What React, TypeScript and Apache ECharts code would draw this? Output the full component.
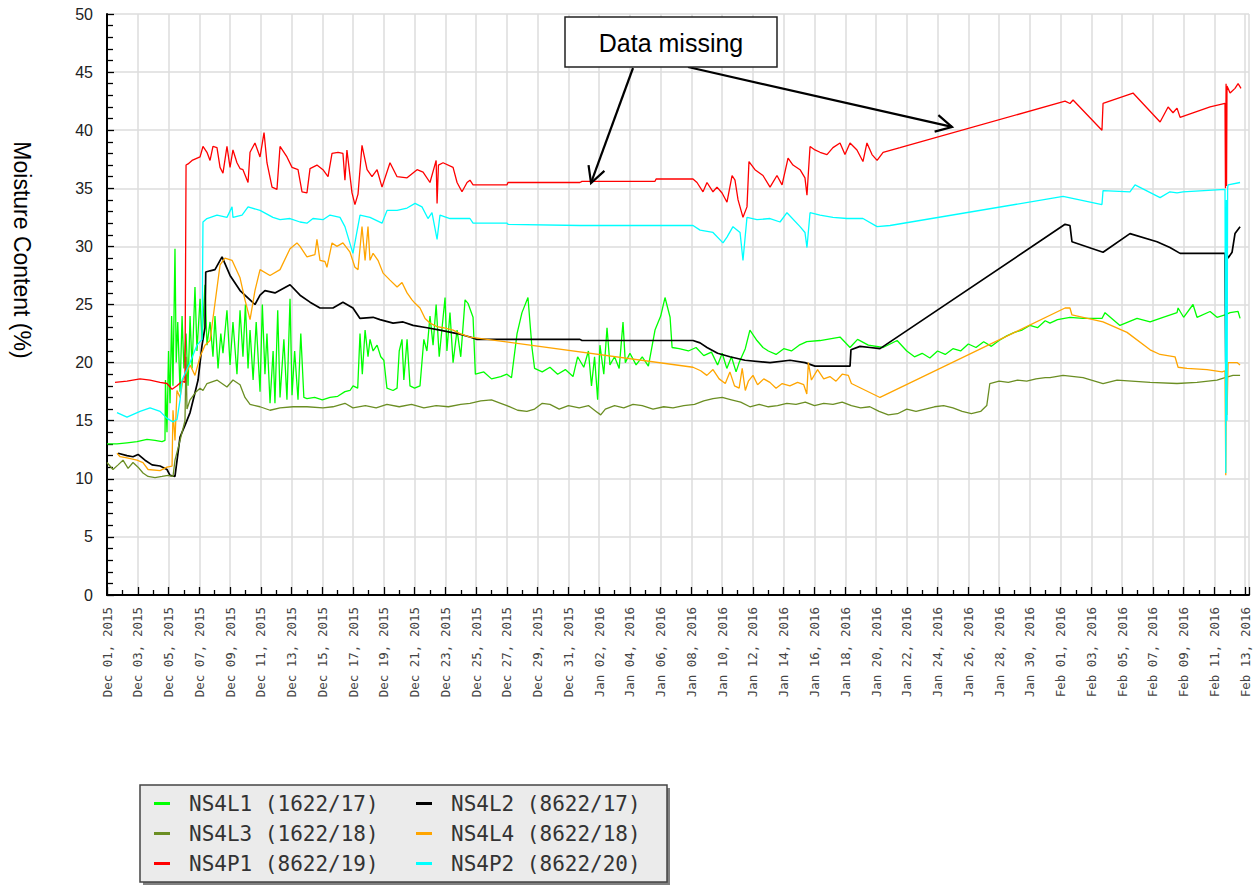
import React, { useEffect, useRef } from 'react';
import * as echarts from 'echarts';

// x values are days since Dec 01, 2015 00:00
const X_TICK_LABELS = [
  'Dec 01, 2015', 'Dec 03, 2015', 'Dec 05, 2015', 'Dec 07, 2015', 'Dec 09, 2015', 'Dec 11, 2015',
  'Dec 13, 2015', 'Dec 15, 2015', 'Dec 17, 2015', 'Dec 19, 2015', 'Dec 21, 2015', 'Dec 23, 2015',
  'Dec 25, 2015', 'Dec 27, 2015', 'Dec 29, 2015', 'Dec 31, 2015', 'Jan 02, 2016', 'Jan 04, 2016',
  'Jan 06, 2016', 'Jan 08, 2016', 'Jan 10, 2016', 'Jan 12, 2016', 'Jan 14, 2016', 'Jan 16, 2016',
  'Jan 18, 2016', 'Jan 20, 2016', 'Jan 22, 2016', 'Jan 24, 2016', 'Jan 26, 2016', 'Jan 28, 2016',
  'Jan 30, 2016', 'Feb 01, 2016', 'Feb 03, 2016', 'Feb 05, 2016', 'Feb 07, 2016', 'Feb 09, 2016',
  'Feb 11, 2016', 'Feb 13, 2016',
];
const X_MAX_DAYS = 74.25;

const SERIES_NAMES = [
  'NS4L1 (1622/17)', 'NS4L2 (8622/17)', 'NS4L3 (1622/18)',
  'NS4L4 (8622/18)', 'NS4P1 (8622/19)', 'NS4P2 (8622/20)',
];
const SERIES_COLORS = ['#00ff00', '#000000', '#6b8e23', '#ffa500', '#ff0000', '#00ffff'];

const NS4L1 = [
  [0, 13.0], [0.65, 13.0], [1.3, 13.1], [1.95, 13.2], [2.6, 13.4], [3.12, 13.3], [3.58, 13.2], [3.77, 13.3],
  [3.8, 18.5], [3.9, 14.0], [4.0, 21.0], [4.1, 16.5], [4.2, 24.0], [4.29, 18.0], [4.42, 29.8], [4.5, 20.0],
  [4.6, 23.5], [4.75, 17.5], [4.88, 24.0], [5.0, 19.5], [5.14, 22.5], [5.27, 18.0], [5.4, 24.0], [5.53, 19.5],
  [5.72, 26.5], [5.85, 21.0], [6.05, 25.5], [6.18, 22.0], [6.37, 26.7], [6.5, 21.5], [6.7, 23.5], [6.89, 20.5],
  [7.02, 24.0], [7.22, 19.5], [7.4, 22.5], [7.54, 20.8], [7.8, 24.5], [8.0, 19.8], [8.19, 23.5], [8.45, 19.0],
  [8.65, 24.5], [8.84, 20.5], [9.0, 25.0], [9.17, 19.5], [9.3, 22.8], [9.5, 18.5], [9.7, 23.5], [9.95, 17.5],
  [10.1, 25.0], [10.27, 19.0], [10.4, 22.5], [10.6, 16.5], [10.8, 21.0], [10.92, 16.5], [11.1, 24.5], [11.25, 17.0],
  [11.5, 22.0], [11.7, 16.8], [11.9, 25.5], [12.03, 17.2], [12.2, 21.0], [12.42, 16.8], [12.6, 22.5], [12.8, 17.0],
  [13.0, 16.9], [13.5, 17.0], [14.0, 16.8], [14.5, 17.0], [15.0, 17.1], [15.47, 17.5], [15.8, 17.6], [16.0, 18.0],
  [16.3, 17.8], [16.45, 22.5], [16.6, 19.0], [16.78, 22.8], [16.97, 20.5], [17.1, 22.0], [17.3, 21.0], [17.56, 21.5],
  [17.8, 20.5], [18.0, 20.2], [18.2, 17.8], [18.6, 17.6], [18.86, 17.8], [19.0, 21.0], [19.18, 22.0], [19.3, 18.5],
  [19.51, 22.0], [19.7, 18.0], [20.0, 17.8], [20.35, 18.0], [20.6, 22.0], [20.8, 21.0], [21.0, 24.0], [21.2, 21.5],
  [21.4, 25.0], [21.6, 20.5], [21.98, 25.6], [22.1, 21.0], [22.3, 24.3], [22.5, 20.0], [22.76, 22.8], [23.0, 20.5],
  [23.28, 25.4], [23.47, 25.1], [23.8, 23.9], [23.95, 19.0], [24.5, 19.2], [25.0, 18.6], [25.6, 18.8], [26.0, 19.0],
  [26.3, 18.7], [26.66, 22.5], [26.98, 24.3], [27.37, 25.6], [27.63, 21.3], [27.8, 19.5], [28.3, 19.2], [28.8, 19.6],
  [29.3, 19.0], [29.8, 19.4], [30.3, 18.8], [30.6, 20.5], [31.0, 19.6], [31.3, 21.0], [31.5, 18.0], [31.7, 20.5],
  [31.9, 16.8], [32.05, 21.5], [32.3, 19.0], [32.51, 23.0], [32.7, 19.8], [33.0, 20.5], [33.3, 19.5], [33.55, 23.5],
  [33.7, 20.0], [34.0, 20.8], [34.4, 19.8], [34.8, 20.5], [35.2, 19.7], [35.63, 22.8], [36.0, 24.0], [36.28, 25.6],
  [36.61, 23.9], [36.74, 21.3], [37.2, 21.2], [37.8, 21.0], [38.3, 21.3], [38.8, 20.6], [39.3, 20.9], [39.7, 19.8],
  [40.0, 20.8], [40.3, 19.5], [40.6, 20.5], [40.9, 19.2], [41.1, 20.0], [41.5, 21.2], [41.8, 22.8], [42.26, 21.9],
  [42.65, 21.3], [43.0, 21.0], [43.5, 20.7], [44.0, 21.2], [44.5, 21.0], [45.0, 21.5], [45.5, 21.8], [46.36, 21.9],
  [47.66, 22.2], [48.31, 21.3], [48.8, 22.0], [49.5, 21.5], [50.46, 21.3], [51.37, 21.9], [52.0, 21.0], [52.5, 20.5],
  [53.0, 20.8], [53.5, 20.4], [54.0, 21.0], [54.5, 20.7], [55.0, 21.2], [55.5, 21.0], [56.0, 21.6], [56.5, 21.3],
  [57.0, 21.8], [57.5, 21.4], [58.0, 21.9], [58.5, 22.3], [59.0, 22.6], [59.5, 22.8], [60.0, 23.2], [60.5, 23.0],
  [61.0, 23.6], [61.31, 23.4], [61.8, 23.7], [62.61, 23.9], [63.46, 23.8], [64.69, 23.8], [64.89, 24.3], [65.86, 23.2],
  [66.97, 23.8], [67.82, 23.5], [68.66, 23.9], [69.57, 24.3], [69.64, 24.7], [70.0, 23.9], [70.61, 25.0], [70.87, 23.9],
  [71.72, 24.4], [72.17, 23.9], [72.69, 24.1], [73.02, 24.3], [73.54, 24.4], [73.67, 23.8],
];

const NS4L2 = [
  [0.72, 12.2], [1.3, 12.0], [1.69, 11.9], [2.02, 12.1], [2.47, 11.6], [2.93, 11.2], [3.45, 11.1], [3.9, 10.8],
  [4.1, 10.3], [4.42, 10.2], [4.75, 13.6], [5.07, 14.6], [5.4, 15.7], [5.72, 17.4], [5.92, 18.5], [6.18, 21.5],
  [6.37, 23.0], [6.42, 27.8], [6.7, 27.9], [7.02, 28.0], [7.48, 29.1], [8.0, 27.5], [8.65, 26.2], [9.3, 25.4],
  [9.62, 25.0], [9.95, 25.8], [10.27, 26.2], [10.92, 26.0], [11.9, 26.7], [12.55, 25.8], [13.2, 25.2], [13.85, 24.7],
  [14.69, 24.7], [15.34, 25.2], [15.99, 24.7], [16.45, 23.8], [17.3, 23.9], [17.75, 23.7], [18.6, 23.4], [19.25, 23.5],
  [19.9, 23.2], [20.81, 23.0], [21.65, 22.8], [22.76, 22.5], [23.6, 22.2], [24.06, 22.0], [30.75, 22.0], [30.88, 21.9],
  [38.1, 21.9], [38.56, 21.7], [39.01, 21.3], [39.7, 20.8], [40.5, 20.5], [41.48, 20.2], [43.11, 20.0], [44.41, 20.2],
  [45.38, 20.0], [46.03, 19.7], [48.31, 19.7], [48.37, 21.1], [48.96, 21.4], [49.61, 21.3], [50.26, 21.2], [62.29, 31.9],
  [62.61, 31.8], [62.74, 30.4], [64.76, 29.5], [66.51, 31.1], [68.27, 30.4], [69.11, 29.9], [69.77, 29.4], [72.69, 29.4],
  [72.74, 20.0], [72.78, 25.0], [72.82, 29.3], [72.89, 29.0], [73.15, 29.5], [73.34, 31.1], [73.67, 31.7],
];

const NS4L3 = [
  [0, 11.4], [0.39, 10.8], [0.72, 11.2], [1.04, 11.6], [1.37, 10.9], [1.69, 11.4], [2.02, 11.0], [2.34, 10.5],
  [2.67, 10.2], [3.12, 10.1], [3.58, 10.2], [3.97, 10.3], [4.29, 10.2], [4.42, 11.6], [4.75, 13.3], [5.07, 15.0],
  [5.14, 20.5], [5.2, 16.0], [5.4, 16.8], [5.8, 17.5], [6.05, 17.8], [6.24, 17.6], [6.5, 18.2], [7.15, 18.5],
  [7.8, 17.9], [8.19, 18.5], [8.65, 18.1], [8.97, 17.0], [9.3, 16.4], [9.95, 16.2], [10.6, 15.9], [11.25, 16.1],
  [12.09, 16.2], [13.0, 16.2], [14.04, 16.1], [14.69, 16.2], [15.47, 16.5], [15.99, 16.1], [16.8, 16.3], [17.5, 16.1],
  [18.2, 16.4], [19.0, 16.2], [19.8, 16.4], [20.6, 16.1], [21.4, 16.3], [22.2, 16.2], [23.0, 16.4], [23.6, 16.5],
  [24.3, 16.7], [25.0, 16.8], [25.6, 16.5], [26.0, 16.3], [26.7, 15.9], [27.3, 15.8], [27.8, 16.0], [28.3, 16.5],
  [28.8, 16.4], [29.4, 16.0], [30.0, 16.3], [30.7, 16.1], [31.3, 16.3], [31.8, 15.8], [32.1, 15.5], [32.4, 16.0],
  [33.0, 16.3], [33.6, 16.1], [34.2, 16.4], [34.8, 16.3], [35.5, 16.0], [36.2, 16.2], [36.8, 16.1], [37.5, 16.3],
  [38.2, 16.4], [38.8, 16.7], [39.4, 16.9], [40.0, 17.0], [40.6, 16.8], [41.2, 16.6], [41.8, 16.2], [42.4, 16.4],
  [43.0, 16.2], [43.6, 16.3], [44.2, 16.5], [44.8, 16.4], [45.4, 16.6], [46.0, 16.3], [46.6, 16.5], [47.2, 16.4],
  [47.8, 16.6], [48.4, 16.3], [49.0, 16.1], [49.6, 16.2], [50.2, 15.8], [50.8, 15.5], [51.4, 15.6], [52.0, 16.0],
  [52.6, 15.8], [53.2, 16.0], [53.8, 16.2], [54.4, 16.3], [55.0, 16.1], [55.6, 15.8], [56.2, 15.6], [56.8, 15.8],
  [57.2, 16.3], [57.4, 18.2], [58.0, 18.4], [58.6, 18.3], [59.2, 18.5], [59.8, 18.4], [60.4, 18.6], [61.0, 18.7],
  [61.31, 18.7], [62.16, 18.9], [63.46, 18.7], [64.76, 18.2], [65.67, 18.5], [67.82, 18.3], [69.57, 18.2], [70.87, 18.3],
  [72.17, 18.5], [72.69, 18.7], [73.21, 18.9], [73.67, 18.9],
];

const NS4L4 = [
  [0.65, 12.2], [0.85, 11.9], [1.3, 11.8], [1.95, 11.6], [2.34, 11.4], [2.67, 10.8], [3.45, 10.7], [3.9, 11.0],
  [4.23, 11.1], [4.29, 15.9], [4.42, 13.3], [4.55, 17.6], [4.75, 17.0], [4.94, 18.5], [5.4, 19.8], [5.72, 18.9],
  [6.05, 20.5], [6.37, 21.5], [6.7, 21.9], [7.35, 28.4], [7.67, 29.0], [8.13, 28.8], [8.65, 27.3], [8.97, 25.4],
  [9.3, 23.7], [9.62, 26.2], [9.95, 28.0], [10.6, 27.5], [11.25, 28.0], [11.9, 29.8], [12.35, 30.3], [12.55, 30.0],
  [13.0, 29.1], [13.52, 29.3], [13.65, 30.6], [13.85, 28.8], [14.17, 28.7], [14.3, 28.2], [14.63, 30.3], [14.95, 30.0],
  [15.34, 30.3], [15.8, 29.5], [16.12, 28.2], [16.32, 28.0], [16.58, 31.7], [16.78, 28.8], [16.97, 31.7], [17.1, 28.8],
  [17.3, 29.4], [17.62, 28.8], [17.95, 27.7], [18.4, 27.1], [18.86, 26.5], [19.18, 26.9], [19.51, 26.0], [19.83, 25.4],
  [20.03, 25.1], [20.35, 24.7], [20.68, 23.8], [21.0, 23.4], [21.46, 23.1], [21.85, 23.0], [22.5, 22.8], [22.95, 22.5],
  [23.6, 22.2], [38.1, 19.6], [38.6, 19.3], [39.0, 18.9], [39.4, 19.4], [39.8, 18.6], [40.2, 18.2], [40.5, 19.2],
  [40.8, 18.0], [41.1, 17.8], [41.3, 19.5], [41.5, 17.6], [41.7, 18.4], [42.0, 18.9], [42.3, 18.1], [42.7, 18.6],
  [43.1, 18.3], [43.5, 17.8], [43.9, 18.2], [44.4, 18.0], [44.9, 18.3], [45.3, 18.1], [45.5, 17.3], [45.6, 20.0],
  [45.8, 18.5], [46.2, 19.4], [46.6, 18.6], [47.0, 18.8], [47.4, 18.4], [47.8, 19.0], [48.2, 18.9], [48.4, 18.2],
  [50.26, 17.0], [62.29, 24.7], [62.61, 24.7], [62.74, 24.1], [64.76, 23.5], [66.32, 22.6], [67.82, 21.1], [68.47, 20.7],
  [69.44, 20.5], [69.64, 19.6], [70.22, 19.5], [71.52, 19.4], [72.5, 19.2], [72.69, 19.3], [72.74, 10.3], [72.78, 19.5],
  [72.82, 15.5], [72.89, 20.0], [73.47, 20.0], [73.67, 19.8],
];

const NS4P1 = [
  [0.52, 18.3], [1.3, 18.4], [2.15, 18.6], [2.8, 18.5], [3.45, 18.3], [3.9, 18.2], [4.23, 17.7], [4.55, 18.0],
  [4.88, 18.4], [5.07, 18.3], [5.14, 37.0], [5.27, 37.1], [5.53, 37.4], [6.05, 37.7], [6.24, 38.6], [6.5, 38.1],
  [6.7, 37.4], [6.89, 38.6], [7.15, 38.5], [7.35, 36.8], [7.54, 36.3], [7.8, 38.6], [8.0, 36.8], [8.19, 38.3],
  [8.45, 37.2], [8.65, 36.7], [8.84, 36.6], [9.17, 35.5], [9.3, 38.1], [9.62, 38.9], [9.95, 37.7], [10.21, 39.8],
  [10.4, 37.2], [10.73, 35.1], [11.05, 34.9], [11.25, 38.6], [11.7, 37.7], [12.03, 36.8], [12.42, 36.6], [12.68, 34.7],
  [13.0, 34.6], [13.2, 36.7], [13.65, 37.0], [14.04, 36.6], [14.37, 36.0], [14.63, 38.0], [15.02, 38.1], [15.34, 38.0],
  [15.47, 35.7], [15.6, 38.3], [15.93, 34.6], [16.12, 33.6], [16.32, 34.5], [16.58, 38.7], [16.91, 36.6], [17.23, 36.0],
  [17.56, 36.6], [17.88, 35.1], [18.4, 37.2], [18.86, 36.0], [19.51, 35.9], [20.16, 36.6], [20.55, 36.4], [21.0, 35.5],
  [21.4, 37.4], [21.46, 33.7], [21.55, 37.0], [21.85, 37.2], [22.5, 36.8], [22.76, 35.5], [23.08, 34.7], [23.41, 35.5],
  [23.6, 35.7], [23.8, 35.3], [26.01, 35.3], [26.07, 35.5], [30.75, 35.5], [30.88, 35.6], [35.63, 35.6], [35.7, 35.8],
  [38.1, 35.8], [38.36, 35.5], [38.75, 34.7], [39.01, 35.5], [39.4, 34.7], [39.66, 35.1], [39.99, 34.6], [40.31, 33.8],
  [40.64, 36.1], [40.83, 35.7], [41.03, 34.0], [41.35, 32.5], [41.61, 33.4], [41.74, 37.3], [42.13, 36.6], [42.65, 36.1],
  [43.11, 35.1], [43.56, 36.1], [43.89, 35.3], [44.28, 37.6], [44.6, 37.0], [45.06, 36.6], [45.38, 35.9], [45.51, 34.4],
  [45.71, 38.6], [46.03, 38.3], [46.36, 38.1], [46.81, 37.9], [47.2, 38.5], [47.66, 38.9], [47.98, 37.9], [48.31, 38.9],
  [48.76, 38.3], [49.15, 37.3], [49.41, 38.9], [49.74, 37.9], [50.07, 37.4], [50.46, 38.1], [51.56, 38.5], [62.29, 42.5],
  [62.61, 42.3], [62.81, 42.6], [64.69, 40.0], [64.76, 42.3], [66.71, 43.2], [68.47, 40.7], [68.99, 42.0], [69.31, 41.5],
  [69.57, 41.9], [69.77, 41.1], [71.72, 42.0], [72.69, 42.3], [72.72, 35.0], [72.76, 44.0], [72.79, 35.2], [72.82, 43.8],
  [73.02, 43.2], [73.34, 43.6], [73.54, 44.0], [73.73, 43.6],
];

const NS4P2 = [
  [0.65, 15.7], [1.3, 15.3], [2.15, 15.8], [2.8, 16.1], [3.45, 15.8], [3.9, 15.2], [4.29, 14.9], [4.55, 15.1],
  [4.75, 16.8], [4.88, 18.5], [5.4, 20.0], [5.85, 21.5], [6.18, 22.0], [6.24, 32.1], [6.5, 32.4], [7.15, 32.7],
  [7.8, 32.5], [8.13, 33.4], [8.19, 32.5], [8.78, 32.7], [9.17, 33.4], [9.95, 33.1], [10.79, 32.5], [11.25, 32.3],
  [11.9, 32.4], [12.55, 32.1], [13.0, 32.0], [13.39, 32.4], [14.04, 32.3], [14.5, 32.7], [15.15, 32.5], [15.47, 31.7],
  [15.99, 29.4], [16.45, 32.7], [17.1, 32.5], [17.88, 32.0], [18.21, 33.1], [18.86, 33.1], [19.51, 33.3], [20.03, 33.7],
  [20.48, 33.4], [20.87, 32.4], [21.13, 32.9], [21.46, 30.6], [21.65, 32.7], [22.3, 32.4], [22.95, 32.4], [23.6, 32.4],
  [23.8, 32.0], [26.01, 32.0], [26.07, 31.9], [30.75, 31.8], [38.1, 31.8], [38.56, 31.4], [39.4, 31.2], [40.05, 30.3],
  [40.31, 30.8], [40.7, 31.7], [41.16, 31.2], [41.35, 28.8], [41.61, 32.5], [42.26, 32.3], [43.11, 32.4], [43.76, 32.1],
  [44.21, 32.9], [45.06, 31.7], [45.38, 31.2], [45.51, 29.9], [45.71, 32.9], [46.36, 32.7], [47.2, 32.5], [48.11, 32.4],
  [49.15, 32.4], [50.07, 31.7], [50.91, 31.8], [62.16, 34.3], [64.69, 33.6], [64.76, 34.8], [66.51, 34.7], [66.84, 35.3],
  [68.47, 34.2], [69.11, 34.7], [69.57, 34.6], [69.96, 34.7], [72.69, 34.9], [72.74, 10.5], [72.78, 34.0], [72.82, 15.0],
  [72.86, 35.0], [72.89, 35.3], [73.67, 35.5],
];

const SERIES_DATA = [NS4L1, NS4L2, NS4L3, NS4L4, NS4P1, NS4P2];

// annotation arrow tips in data coordinates [day, value]
const ARROW_TIPS = [[31.47, 35.46], [54.94, 40.28]];
const ANNOTATION_TEXT = 'Data missing';
const Y_AXIS_TITLE = 'Moisture Content (%)';

const LEGEND_POS = [[154, 793], [416, 793], [154, 823], [416, 823], [154, 853], [416, 853]];

export default function App() {
  const ref = useRef<HTMLDivElement>(null);

  useEffect(() => {
    if (!ref.current) return;
    const chart = echarts.init(ref.current, undefined, { renderer: 'svg' });

    const option: any = {
      animation: false,
      backgroundColor: '#ffffff',
      grid: { left: 107, right: 8, top: 14, bottom: 291, containLabel: false },
      xAxis: {
        type: 'value',
        min: 0,
        max: X_MAX_DAYS,
        interval: 2,
        axisLine: { show: true, onZero: false, lineStyle: { color: '#000', width: 2 } },
        axisTick: { show: true, inside: true, length: 8, lineStyle: { color: '#000', width: 1.3 } },
        minorTick: { show: true, splitNumber: 2, length: 5, lineStyle: { color: '#000', width: 1.3 } },
        axisLabel: {
          rotate: 90,
          margin: 12,
          fontFamily: 'DejaVu Sans Mono',
          fontSize: 12.5,
          color: '#444',
          formatter: (v: number) => {
            const i = v / 2;
            if (Math.abs(i - Math.round(i)) > 1e-6) return '';
            return X_TICK_LABELS[Math.round(i)] ?? '';
          },
        },
        splitLine: { show: true, lineStyle: { color: '#dcdcdc', width: 1.5 } },
      },
      yAxis: {
        type: 'value',
        min: 0,
        max: 50,
        interval: 5,
        axisLine: { show: true, lineStyle: { color: '#000', width: 2 } },
        axisTick: { show: true, inside: true, length: 7, lineStyle: { color: '#000', width: 1.3 } },
        minorTick: { show: true, splitNumber: 5, length: 6, lineStyle: { color: '#000', width: 1.3 } },
        axisLabel: { margin: 14, fontFamily: 'Liberation Sans', fontSize: 16, color: '#222' },
        splitLine: { show: true, lineStyle: { color: '#dcdcdc', width: 1.5 } },
      },
      legend: SERIES_NAMES.map((name, i) => ({
        show: true,
        orient: 'horizontal',
        left: LEGEND_POS[i][0],
        top: LEGEND_POS[i][1],
        padding: 0,
        itemWidth: 16,
        itemHeight: 3,
        selectedMode: false,
        data: [{ name, icon: 'rect' }],
        textStyle: {
          fontFamily: 'DejaVu Sans Mono',
          fontSize: 21,
          color: '#333',
          padding: [0, 0, 0, 14],
        },
        z: 10,
      })),
      series: SERIES_NAMES.map((name, i) => ({
        name,
        type: 'line',
        data: SERIES_DATA[i],
        showSymbol: false,
        symbol: 'none',
        color: SERIES_COLORS[i],
        lineStyle: { color: SERIES_COLORS[i], width: i === 1 ? 1.7 : 1.3 },
        emphasis: { disabled: true },
        z: 2 + i,
      })),
    };

    chart.setOption(option);

    const arrows: any[] = [];
    const starts = [[633, 68], [688, 67]];
    ARROW_TIPS.forEach((tipData, k) => {
      const tip = chart.convertToPixel({ gridIndex: 0 }, tipData) as number[];
      const [sx, sy] = starts[k];
      const dx = tip[0] - sx;
      const dy = tip[1] - sy;
      const len = Math.hypot(dx, dy);
      const ux = dx / len;
      const uy = dy / len;
      const L = 18;
      const a = (28 * Math.PI) / 180;
      const rot = (ang: number) => [ux * Math.cos(ang) - uy * Math.sin(ang), ux * Math.sin(ang) + uy * Math.cos(ang)];
      const r1 = rot(a);
      const r2 = rot(-a);
      arrows.push({
        type: 'line',
        z: 100,
        shape: { x1: sx, y1: sy, x2: tip[0], y2: tip[1] },
        style: { stroke: '#000', lineWidth: 2.2 },
      });
      arrows.push({
        type: 'polyline',
        z: 100,
        shape: {
          points: [
            [tip[0] - L * r1[0], tip[1] - L * r1[1]],
            [tip[0], tip[1]],
            [tip[0] - L * r2[0], tip[1] - L * r2[1]],
          ],
        },
        style: { stroke: '#000', lineWidth: 2.2, fill: 'none' },
      });
    });

    chart.setOption({
      graphic: [
        {
          type: 'rect',
          z: 0,
          shape: { x: 143, y: 788, width: 527, height: 97 },
          style: { fill: '#808080' },
        },
        {
          type: 'rect',
          z: 1,
          shape: { x: 140, y: 785, width: 527, height: 97 },
          style: { fill: '#ebebeb', stroke: '#444', lineWidth: 1.5 },
        },
        {
          type: 'text',
          x: 22,
          y: 250,
          rotation: -Math.PI / 2,
          style: {
            text: Y_AXIS_TITLE,
            x: 0,
            y: 0,
            fontFamily: 'Liberation Sans',
            fontSize: 23,
            fill: '#000',
            align: 'center',
            verticalAlign: 'middle',
            textAlign: 'center',
            textVerticalAlign: 'middle',
          },
        },
        ...arrows,
        {
          type: 'rect',
          z: 101,
          shape: { x: 565, y: 17, width: 212, height: 50 },
          style: { fill: '#fff', stroke: '#222', lineWidth: 1.5 },
        },
        {
          type: 'text',
          z: 102,
          style: {
            text: ANNOTATION_TEXT,
            x: 671,
            y: 43,
            fontFamily: 'Liberation Sans',
            fontSize: 25,
            fill: '#000',
            align: 'center',
            verticalAlign: 'middle',
            textAlign: 'center',
            textVerticalAlign: 'middle',
          },
        },
      ],
    });

    return () => chart.dispose();
  }, []);

  return <div ref={ref} style={{ position: 'absolute', left: 0, top: 0, width: 1257, height: 886 }} />;
}
